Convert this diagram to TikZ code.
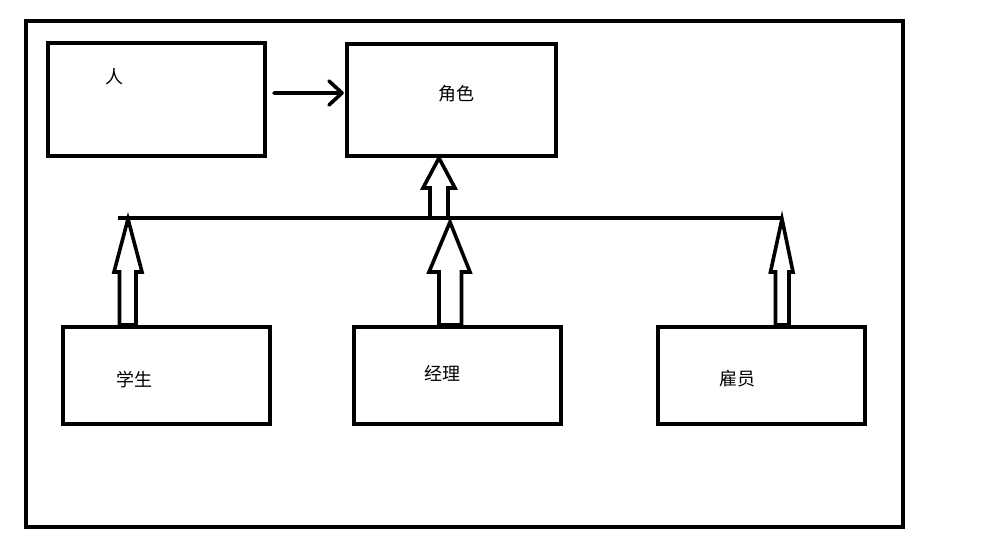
\documentclass[tikz,border=0pt]{standalone}
\usepackage{fontspec}
\newfontfamily\cjk{Noto Sans CJK SC}
\usetikzlibrary{arrows.meta}
\begin{document}
\begin{tikzpicture}[x=1pt,y=-1pt,
  box/.style={draw=black,line width=4pt,minimum width=#1,minimum height=97pt,inner sep=0pt},
  lbl/.style={font=\cjk\fontsize{18}{18}\selectfont,inner sep=0pt},
  hollow/.style={draw=black,line width=3.6pt,line join=miter,fill=white}]
\useasboundingbox (0,0) rectangle (983,557);
\fill[white] (0,0) rectangle (983,557);
% outer frame
\node[draw=black,line width=4pt,minimum width=877pt,minimum height=506pt,inner sep=0pt] (frame) at (464,273.5) {};
% boxes
\node[box=217pt,minimum height=113pt] (ren) at (156.5,99) {};
\node[box=209pt,minimum height=112pt] (juese) at (451.5,99.5) {};
\node[box=207pt] (xs) at (166,375.5) {};
\node[box=207pt] (jl) at (457,375.5) {};
\node[box=207pt] (gy) at (761,375.5) {};
% labels
\node[lbl] (tren) at (114,77) {人};
\node[lbl] (tjs) at (456,94) {角色};
\node[lbl] (txs) at (134,380) {学生};
\node[lbl] (tjl) at (442,373) {经理};
\node[lbl] (tgy) at (737,379) {雇员};
% association arrow
\coordinate (a1) at (ren.east |- 0,93);
\draw[line width=3.6pt,line cap=round,line join=round] ([xshift=7pt]a1) -- ([xshift=-3pt]a1 -| juese.west)
  ([xshift=-16pt,yshift=-12pt]a1 -| juese.west) -- ([xshift=-3pt]a1 -| juese.west) -- ([xshift=-16pt,yshift=12pt]a1 -| juese.west);
% bus line
\coordinate (busL) at (118,218);
\coordinate (busR) at (783,218);
\draw[line width=4pt] (busL) -- (busR);
% hollow arrows
\draw[hollow] (439,158) -- (455,188) -- (448,188) -- (448,218) -- (430,218) -- (430,188) -- (423,188) -- cycle;
\draw[hollow] (450,222) -- (470,272) -- (461.5,272) -- (461.5,325) -- (439,325) -- (439,272) -- (429,272) -- cycle;
\draw[hollow] (128,219) -- (142,272) -- (136,272) -- (136,325) -- (119.5,325) -- (119.5,272) -- (114,272) -- cycle;
\draw[hollow] (782,219) -- (793,272) -- (789,272) -- (789,325) -- (775.5,325) -- (775.5,272) -- (770.5,272) -- cycle;
\end{tikzpicture}
\end{document}
